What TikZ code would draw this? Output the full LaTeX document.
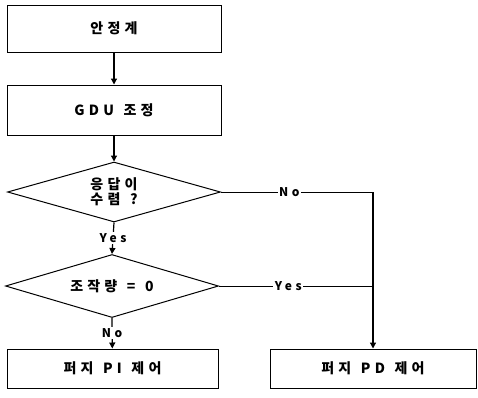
\documentclass[tikz,border=0pt]{standalone}
\usepackage{fontspec}
\setmainfont{Noto Sans CJK KR}[LetterSpace=30,WordSpace=1.3]
\usetikzlibrary{arrows.meta,shapes.geometric}

\begin{document}
\begin{tikzpicture}[x=1pt,y=-1pt,
  every node/.style={font=\fontsize{14}{15}\selectfont\bfseries},
  stepbox/.style={draw,line width=1pt,rectangle,inner sep=0pt},
  test/.style={draw,line width=1pt,diamond,aspect=3.5,inner sep=0pt,align=center},
  flow/.style={line width=1.2pt,-{Triangle[length=6pt,width=6pt]}},
  lbl/.style={fill=white,inner sep=1.5pt,font=\fontsize{12}{14}\selectfont\bfseries}]
  \useasboundingbox (0,0) rectangle (478,397);
  \node[stepbox,minimum width=214pt,minimum height=47pt] (stab) at (114,28.5) {안정계};
  \node[stepbox,minimum width=214pt,minimum height=50pt] (gdu) at (114,110) {GDU 조정};
  \node[test,minimum width=213pt,minimum height=60pt] (conv) at (114,192) {응답이\\수렴 ?};
  \node[test,minimum width=213pt,minimum height=63pt] (zero) at (112,286) {조작량 = 0};
  \node[stepbox,minimum width=211pt,minimum height=39pt] (pi) at (112.5,368.5) {퍼지 PI 제어};
  \node[stepbox,minimum width=206pt,minimum height=39pt] (pd) at (373,368.5) {퍼지 PD 제어};
  \coordinate (bend) at (pd.north |- conv.east);
  % main path
  \draw[flow] (stab) -- (gdu);
  \draw[flow] (gdu) -- (conv.north);
  \draw[flow] (conv.south) -- node[lbl] {Yes} (zero.north);
  \draw[flow] (zero.south) -- node[lbl] {No} (pi);
  % branch to PD
  \draw[line width=1pt] (conv.east) -- node[lbl,pos=.45] {No} (bend);
  \draw[line width=1pt] (zero.east) -- node[lbl,pos=.45] {Yes} (zero.east -| bend);
  \draw[flow] (bend) -- (pd);
\end{tikzpicture}
\end{document}
